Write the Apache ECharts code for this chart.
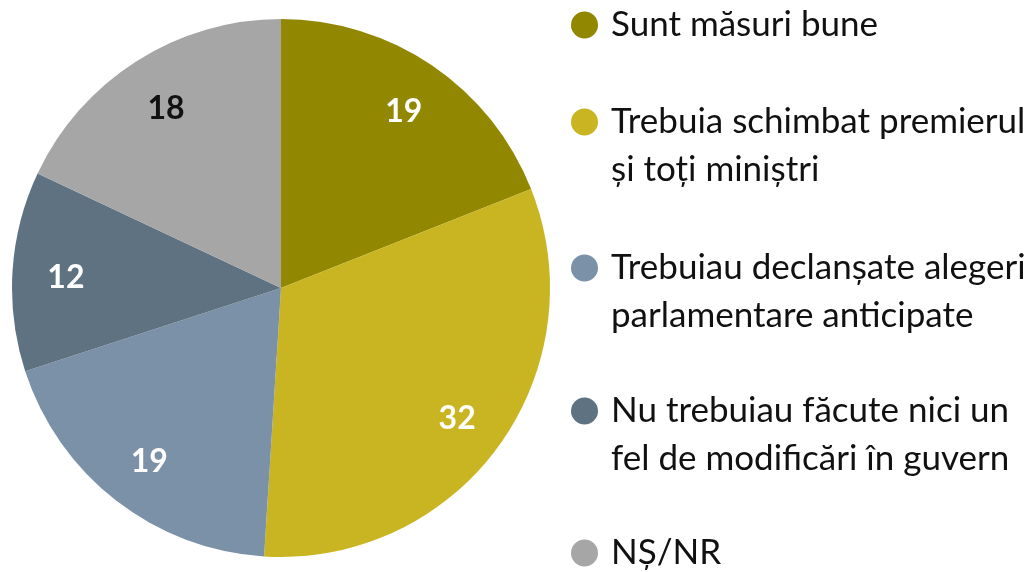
<!DOCTYPE html>
<html>
<head>
<meta charset="utf-8">
<script src="https://cdn.jsdelivr.net/npm/echarts@6/dist/echarts.min.js"></script>
<style>
  html, body { margin: 0; padding: 0; background: #fff; }
  #chart { width: 1032px; height: 572px; }
</style>
</head>
<body>
<div id="chart"></div>
<script>
var categories = [
    'Sunt măsuri bune',
    'Trebuia schimbat premierul\nși toți miniștri',
    'Trebuiau declanșate alegeri\nparlamentare anticipate',
    'Nu trebuiau făcute nici un\nfel de modificări în guvern',
    'NȘ/NR'
];
var values = [19, 32, 19, 12, 18];
var colors = ['#928700', '#c9b521', '#7b91a7', '#5f7282', '#a6a6a6'];
var labelColors = ['#fff', '#fff', '#fff', '#fff', '#111'];
var legendY = [25, 122, 268, 411, 553];

(function () {
    var chart = echarts.init(document.getElementById('chart'));
    var font = 'Lato, "Noto Sans", sans-serif';
    var lh = 48;

    var data = categories.map(function (n, i) {
        return { name: n, value: values[i], itemStyle: { color: colors[i] } };
    });
    var labelData = categories.map(function (n, i) {
        return { name: n, value: values[i], label: { color: labelColors[i] } };
    });

    // one legend per item so the icon sits next to the first text line
    var legends = categories.map(function (n, i) {
        var lines = n.indexOf('\n') >= 0 ? 3 : 1;
        return {
            data: [n],
            orient: 'vertical',
            left: 571,
            top: legendY[i] - Math.max(lines * lh, 27) / 2,
            padding: 0,
            itemWidth: 43,
            itemHeight: 27,
            icon: 'circle',
            selectedMode: false,
            formatter: function (name) {
                return name.indexOf('\n') >= 0 ? ' \n' + name : name;
            },
            textStyle: { fontFamily: font, fontSize: 35, color: '#111', lineHeight: lh }
        };
    });

    var option = {
        animation: false,
        legend: legends,
        series: [
            {
                type: 'pie',
                center: [281, 288],
                radius: [0, 269],
                startAngle: 90,
                clockwise: true,
                silent: true,
                label: { show: false },
                labelLine: { show: false },
                data: data
            },
            {
                // invisible ring, only to put the value labels further out
                type: 'pie',
                center: [281, 288],
                radius: [158, 269],
                startAngle: 90,
                clockwise: true,
                silent: true,
                itemStyle: { color: 'transparent' },
                label: {
                    show: true,
                    position: 'inside',
                    formatter: '{c}',
                    fontFamily: font,
                    fontWeight: 'bold',
                    fontSize: 32,
                    offset: [1, 3]
                },
                labelLine: { show: false },
                data: labelData
            }
        ]
    };
    chart.setOption(option);
})();
</script>
</body>
</html>
